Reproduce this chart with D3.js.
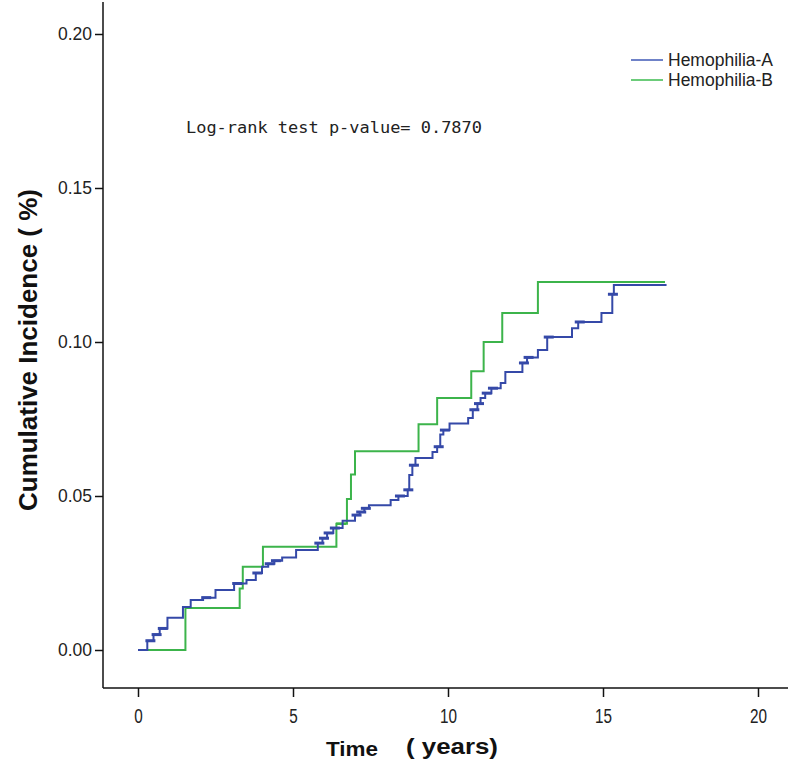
<!DOCTYPE html>
<html>
<head>
<meta charset="utf-8">
<script src="https://cdn.jsdelivr.net/npm/d3@7"></script>
<style>
  html, body { margin: 0; padding: 0; background: #fff; }
  svg { display: block; }
</style>
</head>
<body>
<svg id="chart" width="792" height="764"></svg>
<script>
// ---- Data ----
const seriesNames = ["Hemophilia-A", "Hemophilia-B"];
// step points: [time (years), cumulative incidence after the jump]
const stepsA = [
  [0, 0], [0.3, 0.003], [0.5, 0.005], [0.7, 0.007], [0.95, 0.0105], [1.45, 0.014],
  [1.7, 0.0162], [2.1, 0.017], [2.5, 0.0195], [3.1, 0.0216], [3.5, 0.0227],
  [3.8, 0.025], [4.0, 0.027], [4.2, 0.028], [4.4, 0.029], [4.65, 0.030],
  [5.1, 0.0325], [5.8, 0.0347], [5.95, 0.0363], [6.1, 0.038], [6.3, 0.0396],
  [6.6, 0.042], [7.0, 0.0438], [7.15, 0.0448], [7.3, 0.046], [7.45, 0.047],
  [8.15, 0.0487], [8.4, 0.050], [8.7, 0.052], [8.75, 0.0568], [8.85, 0.060],
  [8.95, 0.0623], [9.5, 0.0643], [9.65, 0.066], [9.75, 0.070], [9.85, 0.0714],
  [10.05, 0.0735], [10.65, 0.0753], [10.8, 0.078], [10.95, 0.080], [11.05, 0.0818],
  [11.2, 0.0834], [11.4, 0.085], [11.7, 0.0867], [11.85, 0.0903], [12.4, 0.0932],
  [12.55, 0.095], [12.9, 0.0974], [13.2, 0.1016], [14.0, 0.1045], [14.2, 0.1065],
  [14.95, 0.1094], [15.3, 0.1155], [15.35, 0.1185], [17.05, 0.1185]
];
const stepsB = [
  [0, 0], [1.53, 0.0136], [3.28, 0.020], [3.38, 0.027], [4.03, 0.0335],
  [6.4, 0.041], [6.74, 0.049], [6.87, 0.057], [7.0, 0.0645], [9.05, 0.0733],
  [9.65, 0.0818], [10.75, 0.0905], [11.15, 0.100], [11.75, 0.1094],
  [12.9, 0.1195], [17.0, 0.1195]
];
// censoring times (marks)
const censorA = [0.4, 0.6, 0.8, 2.2, 3.2, 3.85, 4.25, 4.45, 5.85, 6.0, 6.15, 6.35,
  7.05, 7.2, 7.35, 8.45, 8.72, 8.9, 9.7, 9.9, 10.85, 11.0, 11.25, 11.45,
  12.45, 12.6, 13.25, 14.25, 15.32];
const censorB = [6.55];
const xTicks = [0, 5, 10, 15, 20];
const yTicks = [0, 0.05, 0.10, 0.15, 0.20];
const pText = "Log-rank test p-value= 0.7870";
const xLabel1 = "Time", xLabel2 = "( years)";
const yLabel = "Cumulative Incidence ( %)";

// ---- Layout ----
const svg = d3.select("#chart");
const x = d3.scaleLinear().domain([0, 20]).range([138, 758]);
const y = d3.scaleLinear().domain([0, 0.2]).range([650, 34]);
const axisX0 = 103, axisY0 = 688;
const colA = "#3549a8", colB = "#3cb44b";
const legA = "#6f82c8", legB = "#6ccc7a";

// axes
const yAxis = svg.append("g").attr("transform", `translate(${axisX0},0)`)
  .call(d3.axisLeft(y).tickValues(yTicks).tickFormat(d3.format(".2f")).tickSize(8).tickPadding(3));
yAxis.select(".domain").remove();
yAxis.selectAll("text").attr("font-family", "Liberation Sans, Arial, sans-serif")
  .attr("font-size", 17.5).attr("fill", "#222");
yAxis.selectAll("line").attr("stroke", "#111").attr("stroke-width", 1.5);

const xAxis = svg.append("g").attr("transform", `translate(0,${axisY0})`)
  .call(d3.axisBottom(x).tickValues(xTicks).tickFormat(d3.format("d")).tickSize(9).tickPadding(12));
xAxis.select(".domain").remove();
xAxis.selectAll("text").attr("font-family", "Liberation Sans, Arial, sans-serif")
  .attr("font-size", 20).attr("fill", "#222")
  .attr("textLength", d => String(d).length * 8.5).attr("lengthAdjust", "spacingAndGlyphs");
xAxis.selectAll("line").attr("stroke", "#111").attr("stroke-width", 1.5);

svg.append("line").attr("x1", axisX0).attr("x2", axisX0).attr("y1", 2).attr("y2", axisY0)
  .attr("stroke", "#111").attr("stroke-width", 1.5);
svg.append("line").attr("x1", axisX0).attr("x2", 788).attr("y1", axisY0).attr("y2", axisY0)
  .attr("stroke", "#111").attr("stroke-width", 1.5);

// curves
const line = d3.line().x(d => x(d[0])).y(d => y(d[1])).curve(d3.curveStepAfter);
function stepValue(steps, t) {
  let v = 0;
  for (const s of steps) { if (s[0] <= t) v = s[1]; }
  return v;
}
svg.append("path").datum(stepsB).attr("d", line).attr("fill", "none")
  .attr("stroke", colB).attr("stroke-width", 2);
svg.append("g").selectAll("line").data(censorB).join("line")
  .attr("x1", d => x(d) - 5).attr("x2", d => x(d) + 5)
  .attr("y1", d => y(stepValue(stepsB, d))).attr("y2", d => y(stepValue(stepsB, d)))
  .attr("stroke", colB).attr("stroke-width", 2.5);

svg.append("path").datum(stepsA).attr("d", line).attr("fill", "none")
  .attr("stroke", colA).attr("stroke-width", 2);
svg.append("g").selectAll("line").data(censorA).join("line")
  .attr("x1", d => x(d) - 5).attr("x2", d => x(d) + 5)
  .attr("y1", d => y(stepValue(stepsA, d))).attr("y2", d => y(stepValue(stepsA, d)))
  .attr("stroke", colA).attr("stroke-width", 3);

// legend
const legend = svg.append("g");
[[seriesNames[0], legA, 60], [seriesNames[1], legB, 80]].forEach(([name, c, ly]) => {
  legend.append("line").attr("x1", 631).attr("x2", 663).attr("y1", ly).attr("y2", ly)
    .attr("stroke", c).attr("stroke-width", 2);
  legend.append("text").attr("x", 668).attr("y", ly + 6).text(name)
    .attr("font-family", "Liberation Sans, Arial, sans-serif").attr("font-size", 17.5).attr("fill", "#222");
});

// p-value annotation
svg.append("text").attr("x", 186).attr("y", 133).text(pText)
  .attr("font-family", "DejaVu Sans Mono, Liberation Mono, monospace").attr("font-size", 15)
  .attr("textLength", 296).attr("lengthAdjust", "spacingAndGlyphs").attr("fill", "#222");

// axis titles
svg.append("text").attr("x", 326).attr("y", 756).text(xLabel1)
  .attr("font-family", "Liberation Sans, Arial, sans-serif").attr("font-weight", "bold")
  .attr("font-size", 21).attr("textLength", 52).attr("lengthAdjust", "spacingAndGlyphs").attr("fill", "#111");
svg.append("text").attr("x", 406).attr("y", 754).text(xLabel2)
  .attr("font-family", "Liberation Sans, Arial, sans-serif").attr("font-weight", "bold")
  .attr("font-size", 22).attr("textLength", 92).attr("lengthAdjust", "spacingAndGlyphs").attr("fill", "#111");
svg.append("text").attr("transform", "translate(37,350) rotate(-90)")
  .attr("text-anchor", "middle").text(yLabel)
  .attr("font-family", "Liberation Sans, Arial, sans-serif").attr("font-weight", "bold")
  .attr("font-size", 26).attr("textLength", 322).attr("lengthAdjust", "spacingAndGlyphs").attr("fill", "#111");
</script>
</body>
</html>
